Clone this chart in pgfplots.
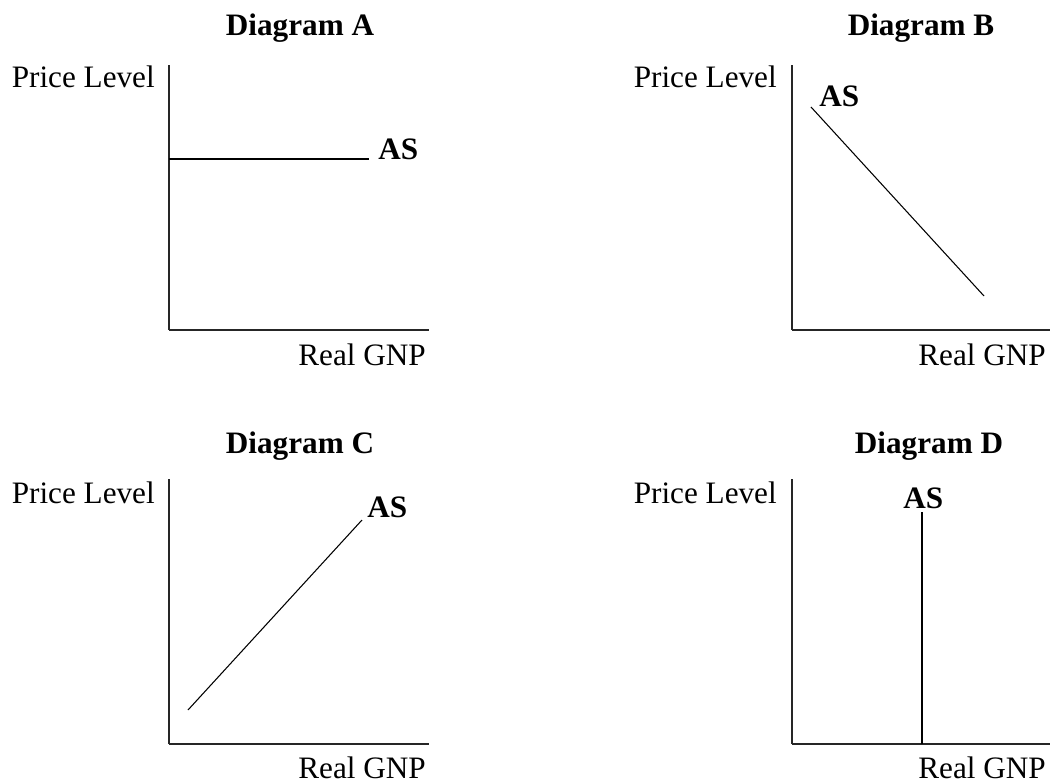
\documentclass[border=0pt]{standalone}
\usepackage{pgfplots}
\pgfplotsset{compat=1.18}
\usepackage{fontspec}
\setmainfont{Liberation Serif}
\newcommand{\lbl}{\fontsize{23.4}{28}\selectfont}
\pgfplotsset{diag/.style={
  x=0.75pt, y=0.75pt, clip=false,
  axis lines=left, axis line style={-, line width=1.1pt, black!85},
  xtick=\empty, ytick=\empty,
  anchor=south west,
}}
\tikzset{asline/.style={black, line width=0.8pt, mark=none}}
\begin{document}
\begin{tikzpicture}[every node/.style={inner sep=0pt, font=\lbl}]
\useasboundingbox (0,0) rectangle (788.25pt,587.25pt);
% Diagram A
\begin{axis}[diag, at={(126.75pt,339.75pt)}, xmin=169, xmax=429, ymin=453, ymax=718]
\addplot[asline] coordinates {(169,624) (369,624)};
\node[anchor=base] at (axis cs:300,747) {\bfseries Diagram A};
\node[anchor=base east] at (axis cs:155,695) {Price Level};
\node[anchor=base west] at (axis cs:378,623) {\bfseries AS};
\node[anchor=base east] at (axis cs:426,417) {Real GNP};
\end{axis}
% Diagram B
\begin{axis}[diag, at={(594pt,339.75pt)}, xmin=792, xmax=1050, ymin=453, ymax=718]
\addplot[asline] coordinates {(811,676) (984,487)};
\node[anchor=base] at (axis cs:921,747) {\bfseries Diagram B};
\node[anchor=base east] at (axis cs:777,695) {Price Level};
\node[anchor=base west] at (axis cs:819,676) {\bfseries AS};
\node[anchor=base east] at (axis cs:1046,417) {Real GNP};
\end{axis}
% Diagram C
\begin{axis}[diag, at={(126.75pt,29.25pt)}, xmin=169, xmax=429, ymin=39, ymax=304]
\addplot[asline] coordinates {(188,73) (362,263)};
\node[anchor=base] at (axis cs:300,330) {\bfseries Diagram C};
\node[anchor=base east] at (axis cs:155,280) {Price Level};
\node[anchor=base west] at (axis cs:367,266) {\bfseries AS};
\node[anchor=base east] at (axis cs:426,5) {Real GNP};
\end{axis}
% Diagram D
\begin{axis}[diag, at={(594pt,29.25pt)}, xmin=792, xmax=1050, ymin=39, ymax=304]
\addplot[asline] coordinates {(922,39) (922,271)};
\node[anchor=base] at (axis cs:929,330) {\bfseries Diagram D};
\node[anchor=base east] at (axis cs:777,280) {Price Level};
\node[anchor=base west] at (axis cs:903,274) {\bfseries AS};
\node[anchor=base east] at (axis cs:1046,5) {Real GNP};
\end{axis}
\end{tikzpicture}
\end{document}
